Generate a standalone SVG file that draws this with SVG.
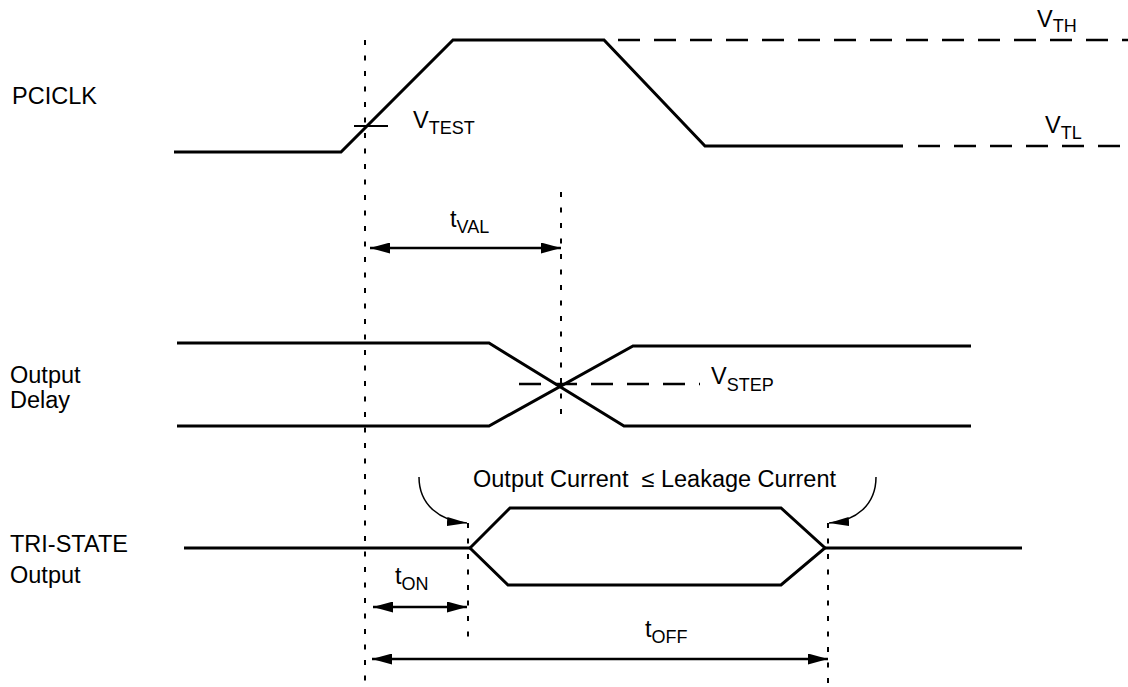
<svg xmlns="http://www.w3.org/2000/svg" width="1128" height="687" viewBox="0 0 1128 687">
<style>
  text { font-family: "Liberation Sans", Arial, sans-serif; fill: #000; }
  .lbl { font-size: 23.5px; }
  .sub { font-size: 18px; }
  .wave { fill: none; stroke: #000; stroke-width: 3; stroke-linejoin: miter; }
  .thr { fill: none; stroke: #000; stroke-width: 2.5; stroke-dasharray: 22 14; }
  .dot { fill: none; stroke: #000; stroke-width: 2; stroke-dasharray: 5 10.5; }
  .dim { fill: none; stroke: #000; stroke-width: 2.5; marker-start: url(#arr); marker-end: url(#arr); }
  .curve { fill: none; stroke: #000; stroke-width: 1.5; marker-end: url(#arr2); }
</style>
<defs>
  <marker id="arr" markerUnits="userSpaceOnUse" markerWidth="20" markerHeight="11" refX="20" refY="5.5" orient="auto-start-reverse">
    <path d="M0,0 L20,5.5 L0,11 z" fill="#000"/>
  </marker>
  <marker id="arr2" markerUnits="userSpaceOnUse" markerWidth="20" markerHeight="9" refX="20" refY="4.5" orient="auto">
    <path d="M0,0 L20,4.5 L0,9 z" fill="#000"/>
  </marker>
</defs>
<rect width="1128" height="687" fill="#fff"/>

<g id="pciclk">
  <text class="lbl" x="12" y="104">PCICLK</text>
  <polyline class="wave" points="174,152 341,152 453,40 604,40 705,146 903,146"/>
  <line class="thr" x1="618" y1="40" x2="1128" y2="40"/>
  <line class="thr" x1="918" y1="146" x2="1128" y2="146"/>
  <line x1="354" y1="126" x2="388" y2="126" stroke="#000" stroke-width="2"/>
  <text class="lbl" x="413" y="128">V<tspan class="sub" dy="6">TEST</tspan></text>
  <text class="lbl" x="1037" y="27">V<tspan class="sub" dy="5">TH</tspan></text>
  <text class="lbl" x="1045" y="133">V<tspan class="sub" dy="6">TL</tspan></text>
</g>

<g id="output-delay">
  <text class="lbl" x="10" y="383">Output</text>
  <text class="lbl" x="10" y="408">Delay</text>
  <polyline class="wave" points="177,343 489,343 624,426 971,426"/>
  <polyline class="wave" points="177,426 489,426 633,346 971,346"/>
  <line class="thr" x1="519" y1="384" x2="700" y2="384" stroke-dasharray="21 15"/>
  <text class="lbl" x="711" y="384">V<tspan class="sub" dy="7">STEP</tspan></text>
</g>

<g id="tristate">
  <text class="lbl" x="10" y="552">TRI-STATE</text>
  <text class="lbl" x="10" y="583">Output</text>
  <polyline class="wave" points="184,548 470,548"/>
  <polygon class="wave" points="470,548 510,508 781,508 825,548 781,585 508,585"/>
  <polyline class="wave" points="825,548 1022,548"/>
  <text class="lbl" x="473" y="487" style="white-space:pre">Output Current  ≤ Leakage Current</text>
</g>

<g id="connectors">
  <line class="dot" x1="365" y1="40" x2="365" y2="687"/>
  <line class="dot" x1="561" y1="192" x2="561" y2="420"/>
  <line class="dot" x1="468" y1="523" x2="468" y2="645"/>
  <line class="dot" x1="828" y1="523" x2="828" y2="687"/>
  <line class="dim" x1="370" y1="248" x2="561" y2="248"/>
  <text class="lbl" x="450" y="227">t<tspan class="sub" dy="6">VAL</tspan></text>
  <line class="dim" x1="373" y1="607" x2="467" y2="607"/>
  <text class="lbl" x="395" y="584">t<tspan class="sub" dy="6">ON</tspan></text>
  <line class="dim" x1="372" y1="659" x2="828" y2="659"/>
  <text class="lbl" x="645" y="637">t<tspan class="sub" dy="6">OFF</tspan></text>
  <path class="curve" d="M419,477 C419,505 440,521 467,523"/>
  <path class="curve" d="M876,477 C876,505 856,521 829,523"/>
</g>
</svg>
